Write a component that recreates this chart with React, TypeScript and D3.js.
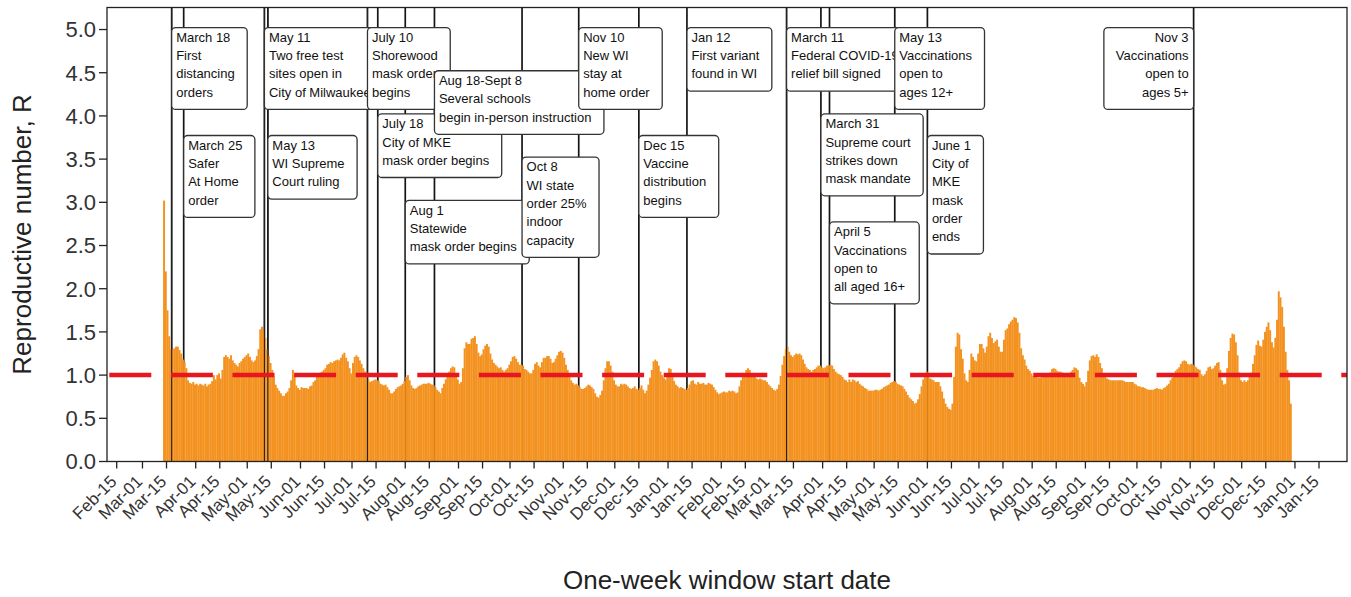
import React, { useMemo } from "react";
import * as d3 from "d3";

// ---------- data ----------
const startDate = "2020-03-13"; // first one-week window start date (daily series)
const rValues = [
  3.02, 2.2, 1.75, 1.45, 1.3, 1.3, 1.31, 1.33, 1.33, 1.29,
  1.25, 1.18, 1.15, 1.08, 0.94, 0.91, 0.9, 0.92, 0.89, 0.9,
  0.88, 0.9, 0.89, 0.88, 0.9, 0.87, 0.89, 0.9, 0.93, 1.0,
  0.95, 1.0, 1.02, 0.96, 1.06, 1.21, 1.23, 1.21, 1.19, 1.23,
  1.17, 1.14, 1.12, 1.1, 1.14, 1.16, 1.19, 1.21, 1.23, 1.25,
  1.21, 1.17, 1.15, 1.17, 1.22, 1.3, 1.53, 1.56, 1.51, 1.43,
  1.3, 1.22, 1.14, 1.06, 0.98, 0.89, 0.85, 0.82, 0.79, 0.76,
  0.76, 0.79, 0.81, 0.85, 0.94, 1.06, 1.0, 0.88, 0.85, 0.83,
  0.86, 0.85, 0.85, 0.85, 0.84, 0.87, 0.88, 0.92, 0.94, 0.98,
  1.02, 1.03, 1.04, 1.06, 1.08, 1.12, 1.13, 1.15, 1.14, 1.16,
  1.17, 1.18, 1.17, 1.2, 1.24, 1.26, 1.2, 1.16, 1.08, 1.02,
  1.14, 1.21, 1.23, 1.21, 1.17, 1.13, 1.08, 1.04, 1.0, 0.95,
  0.92, 0.93, 0.94, 0.95, 0.94, 0.93, 0.9, 0.89, 0.88, 0.89,
  0.86, 0.83, 0.79, 0.79, 0.81, 0.84, 0.86, 0.87, 0.88, 0.9,
  0.93, 0.98, 1.0, 0.94, 0.88, 0.85, 0.84, 0.85, 0.87, 0.88,
  0.89, 0.9, 0.9, 0.9, 0.91, 0.9, 0.89, 0.88, 0.86, 0.83,
  0.81, 0.79, 0.85, 0.9, 0.95, 1.0, 1.04, 1.08, 1.1, 1.09,
  1.02, 0.95, 0.9, 0.92, 1.08, 1.31, 1.38, 1.36, 1.36, 1.42,
  1.43, 1.45, 1.36, 1.26, 1.22, 1.24, 1.3, 1.34, 1.36, 1.33,
  1.25, 1.18, 1.14, 1.12, 1.1, 1.08, 1.09, 1.06, 1.04, 1.06,
  1.08, 1.12, 1.16, 1.21, 1.22, 1.19, 1.15, 1.12, 1.12, 1.11,
  1.07, 1.06, 1.04, 1.02, 1.02, 1.06, 1.13, 1.15, 1.11, 1.09,
  1.15, 1.2, 1.2, 1.22, 1.22, 1.19, 1.14, 1.15, 1.19, 1.23,
  1.27, 1.28, 1.26, 1.2, 1.12, 1.06, 1.0, 0.94, 0.91, 0.89,
  0.9, 0.88, 0.86, 0.84, 0.84, 0.85, 0.87, 0.89, 0.88, 0.86,
  0.84, 0.79, 0.75, 0.74, 0.77, 0.82, 0.94, 1.08, 1.16, 1.16,
  1.11, 1.04, 0.94, 0.89, 0.87, 0.87, 0.9, 0.89, 0.9, 0.89,
  0.87, 0.85, 0.84, 0.85, 0.87, 0.84, 0.83, 0.85, 0.88, 0.83,
  0.79, 0.82, 0.89, 0.97, 1.06, 1.16, 1.18, 1.16, 1.11, 1.04,
  1.0, 0.97, 0.95, 1.0, 1.08, 1.07, 0.99, 0.93, 0.89, 0.87,
  0.85, 0.86, 0.85, 0.84, 0.83, 0.85, 0.89, 0.93, 0.94, 0.9,
  0.89, 0.92, 0.9, 0.9, 0.91, 0.89, 0.89, 0.91, 0.9, 0.89,
  0.86, 0.83, 0.8, 0.78, 0.79, 0.8, 0.81, 0.8, 0.8, 0.82,
  0.81, 0.82, 0.81, 0.79, 0.8, 0.87, 0.94, 1.0, 1.02, 1.06,
  1.08, 1.06, 1.02, 1.0, 0.98, 0.96, 0.95, 0.96, 0.95, 0.94,
  0.94, 0.92, 0.89, 0.87, 0.85, 0.83, 0.82, 0.84, 0.89, 0.99,
  1.12, 1.22, 1.3, 1.33, 1.27, 1.23, 1.21, 1.23, 1.25, 1.24,
  1.25, 1.23, 1.18, 1.13, 1.09, 1.07, 1.06, 1.04, 1.06, 1.07,
  1.09, 1.11, 1.11, 1.09, 1.08, 1.09, 1.11, 1.11, 1.12, 1.11,
  1.07, 1.04, 1.02, 1.01, 1.0, 0.98, 0.95, 0.94, 0.92, 0.95,
  0.92, 0.95, 0.94, 0.92, 0.93, 0.9, 0.88, 0.87, 0.85, 0.84,
  0.82, 0.82, 0.82, 0.82, 0.83, 0.83, 0.82, 0.83, 0.84, 0.86,
  0.87, 0.88, 0.89, 0.91, 0.92, 0.93, 0.92, 0.9, 0.89, 0.88,
  0.87, 0.84, 0.81, 0.77, 0.74, 0.72, 0.7, 0.67, 0.68, 0.72,
  0.78, 0.87, 0.95, 1.01, 1.04, 1.01, 0.96, 0.95, 0.94, 0.92,
  0.92, 0.92, 0.87, 0.81, 0.73, 0.67, 0.63, 0.61, 0.6, 0.67,
  0.98, 1.33, 1.49, 1.47, 1.3, 1.19, 1.02, 0.94, 0.92, 1.06,
  1.25, 1.21, 1.17, 1.16, 1.25, 1.36, 1.36, 1.31, 1.26, 1.33,
  1.45, 1.49, 1.43, 1.37, 1.39, 1.41, 1.33, 1.27, 1.27, 1.41,
  1.52, 1.54, 1.59, 1.62, 1.64, 1.67, 1.66, 1.61, 1.49, 1.31,
  1.23, 1.18, 1.11, 1.07, 1.05, 1.02, 0.99, 0.98, 0.98, 0.97,
  0.97, 0.98, 1.0, 1.01, 1.02, 1.02, 1.03, 1.07, 1.08, 1.07,
  1.05, 1.04, 1.04, 1.03, 1.02, 1.02, 1.02, 1.02, 1.04, 1.06,
  1.09, 1.08, 1.06, 0.97, 0.92, 0.9, 0.87, 0.92, 1.05, 1.17,
  1.22, 1.23, 1.21, 1.24, 1.21, 1.14, 1.08, 1.02, 0.98, 0.96,
  0.95, 0.94, 0.94, 0.94, 0.94, 0.94, 0.94, 0.94, 0.94, 0.93,
  0.92, 0.92, 0.92, 0.92, 0.92, 0.9, 0.89, 0.87, 0.87, 0.86,
  0.86, 0.85, 0.84, 0.83, 0.83, 0.83, 0.83, 0.84, 0.85, 0.84,
  0.84, 0.83, 0.85, 0.86, 0.88, 0.9, 0.94, 0.97, 1.01, 1.05,
  1.07, 1.09, 1.13, 1.16, 1.17, 1.16, 1.13, 1.12, 1.13, 1.12,
  1.1, 1.09, 1.07, 1.06, 1.01, 0.99, 1.01, 1.05, 1.09, 1.1,
  1.07, 1.08, 1.11, 1.14, 1.15, 1.06, 0.94, 0.89, 0.9, 1.08,
  1.28, 1.43, 1.48, 1.47, 1.38, 1.23, 1.03, 0.94, 0.92, 0.94,
  0.92, 0.94, 0.99, 1.03, 1.13, 1.23, 1.35, 1.4, 1.34, 1.33,
  1.41, 1.5, 1.56, 1.61, 1.52, 1.38, 1.32, 1.43, 1.64, 1.97,
  1.9, 1.79, 1.56, 1.27, 1.06, 0.94, 0.67,
];

const eventDates = [
  "2020-03-18", "2020-03-25", "2020-05-11", "2020-05-13", "2020-07-10",
  "2020-07-16", "2020-08-01", "2020-08-18", "2020-10-08", "2020-11-10",
  "2020-12-15", "2021-01-12", "2021-03-11", "2021-03-31", "2021-04-05",
  "2021-05-13", "2021-06-01", "2021-11-03",
];
const eventTexts = [
  "March 18\nFirst\ndistancing\norders",
  "March 25\nSafer\nAt Home\norder",
  "May 11\nTwo free test\nsites open in\nCity of Milwaukee",
  "May 13\nWI Supreme\nCourt ruling",
  "July 10\nShorewood\nmask order\nbegins",
  "July 18\nCity of MKE\nmask order begins",
  "Aug 1\nStatewide\nmask order begins",
  "Aug 18-Sept 8\nSeveral schools\nbegin in-person instruction",
  "Oct 8\nWI state\norder 25%\nindoor\ncapacity",
  "Nov 10\nNew WI\nstay at\nhome order",
  "Dec 15\nVaccine\ndistribution\nbegins",
  "Jan 12\nFirst variant\nfound in WI",
  "March 11\nFederal COVID-19\nrelief bill signed",
  "March 31\nSupreme court\nstrikes down\nmask mandate",
  "April 5\nVaccinations\nopen to\nall aged 16+",
  "May 13\nVaccinations\nopen to\nages 12+",
  "June 1\nCity of\nMKE\nmask\norder\nends",
  "Nov 3\nVaccinations\nopen to\nages 5+",
];
const eventBoxTop = [5.0, 3.75, 5.0, 3.75, 5.0, 4.0, 3.0, 4.5, 3.5, 5.0, 3.75, 5.0, 5.0, 4.0, 2.75, 5.0, 3.75, 5.0];
const eventAlign = ["left", "left", "left", "left", "left", "left", "left", "left", "left", "left", "left", "left", "left", "left", "left", "left", "left", "right"];
const linesOverBars = ["2020-03-18", "2020-05-11", "2020-05-13", "2020-07-10", "2021-03-11"];

const yTickValues = [0, 0.5, 1, 1.5, 2, 2.5, 3, 3.5, 4, 4.5, 5];
const thresholdR = 1.0;
const xDomain = ["2020-02-09T08:24:00Z", "2022-01-31T07:12:00Z"];
const yDomainMax = 5.255;
const yLabel = "Reproductive number, R";
const xLabel = "One-week window start date";

// ---------- layout ----------
const W = 1351;
const H = 597;
const L = 107, R = 1347, T = 7.5, B = 461.5;
const FONT = '"Liberation Sans", Arial, Helvetica, sans-serif';
const BOX_FS = 13;
const LINE_H = 18.3;

export default function App() {
  const x = d3.scaleUtc().domain(xDomain.map((s) => new Date(s))).range([L, R]);
  const y = d3.scaleLinear().domain([0, yDomainMax]).range([B, T]);
  const parse = d3.utcParse("%Y-%m-%d");
  const start = parse(startDate) as Date;
  const bars = rValues.map((v, i) => ({ date: d3.utcDay.offset(start, i), v }));
  const dayW = x(d3.utcDay.offset(start, 1)) - x(start);

  const xTicks = d3
    .utcMonths(new Date(Date.UTC(2020, 1, 1)), new Date(Date.UTC(2022, 1, 1)))
    .flatMap((m) => [m, d3.utcDay.offset(m, 14)])
    .filter((d) => d >= new Date(Date.UTC(2020, 1, 15)) && d <= new Date(Date.UTC(2022, 0, 15)));
  const fmt = d3.utcFormat("%b-%d");

  const measure = useMemo(() => {
    const c = document.createElement("canvas").getContext("2d")!;
    c.font = `${BOX_FS}px ${FONT}`;
    return (s: string) => c.measureText(s).width;
  }, []);

  const events = eventDates.map((ds, i) => {
    const lx = x(parse(ds) as Date);
    const lines = eventTexts[i].split("\n");
    const tw = Math.max(...lines.map(measure));
    const bw = tw + 17;
    const bh = 27 + (lines.length - 1) * LINE_H;
    const right = eventAlign[i] === "right";
    const bx = right ? lx - bw : lx;
    const by = y(eventBoxTop[i]) - 2;
    return { ds, lx, lines, bx, by, bw, bh, right };
  });

  return (
    <svg width={W} height={H} style={{ position: "absolute", left: 0, top: 0, background: "#fff" }} fontFamily={FONT}>
      <rect x={0} y={0} width={W} height={H} fill="#fff" />
      {/* event lines (behind bars) */}
      {events.map((e) => (
        <line key={"l" + e.ds} x1={e.lx} x2={e.lx} y1={T} y2={B} stroke="#151515" strokeWidth={1.7} />
      ))}
      {/* bars */}
      <g fill="#f39220">
        {bars.map((b, i) => (
          <rect key={i} x={x(b.date)} y={y(b.v)} width={dayW + 0.25} height={B - y(b.v)} />
        ))}
      </g>
      {/* some event lines show through the bars */}
      {events
        .filter((e) => linesOverBars.includes(e.ds))
        .map((e) => (
          <line key={"o" + e.ds} x1={e.lx} x2={e.lx} y1={T} y2={B} stroke="#222" strokeWidth={1.1} />
        ))}
      {/* threshold R = 1 */}
      <line x1={L} x2={R} y1={y(thresholdR)} y2={y(thresholdR)} stroke="#e8161f" strokeWidth={4.5} strokeDasharray="42 19.6" strokeDashoffset={-2.3} />
      {/* annotation boxes */}
      {events.map((e) => (
        <g key={"b" + e.ds}>
          <rect x={e.bx} y={e.by} width={e.bw} height={e.bh} rx={4} ry={4} fill="#fff" stroke="#333" strokeWidth={1.3} />
          <text fontSize={BOX_FS} fill="#111" textAnchor={e.right ? "end" : "start"}>
            {e.lines.map((ln, j) => (
              <tspan key={j} x={e.right ? e.bx + e.bw - 5 : e.bx + 4.5} y={e.by + 14.3 + j * LINE_H}>
                {ln}
              </tspan>
            ))}
          </text>
        </g>
      ))}
      {/* frame */}
      <rect x={L} y={T} width={R - L} height={B - T} fill="none" stroke="#222" strokeWidth={1.3} />
      {/* y axis */}
      {yTickValues.map((v) => (
        <g key={"y" + v}>
          <line x1={L - 8} x2={L} y1={y(v)} y2={y(v)} stroke="#222" strokeWidth={1.3} />
          <text x={L - 11} y={y(v)} dy="0.36em" textAnchor="end" fontSize={22} fill="#333">
            {d3.format(".1f")(v)}
          </text>
        </g>
      ))}
      {/* x axis */}
      {xTicks.map((d) => {
        const tx = x(d);
        return (
          <g key={"x" + +d}>
            <line x1={tx} x2={tx} y1={B} y2={B + 7} stroke="#222" strokeWidth={1.3} />
            <text transform={`translate(${tx + 1},${B + 21}) rotate(-45)`} textAnchor="end" fontSize={17} fill="#333">
              {fmt(d)}
            </text>
          </g>
        );
      })}
      <text transform={`translate(31,${(T + B) / 2}) rotate(-90)`} textAnchor="middle" fontSize={26} fill="#222">
        {yLabel}
      </text>
      <text x={(L + R) / 2} y={589} textAnchor="middle" fontSize={26} fill="#222">
        {xLabel}
      </text>
    </svg>
  );
}
